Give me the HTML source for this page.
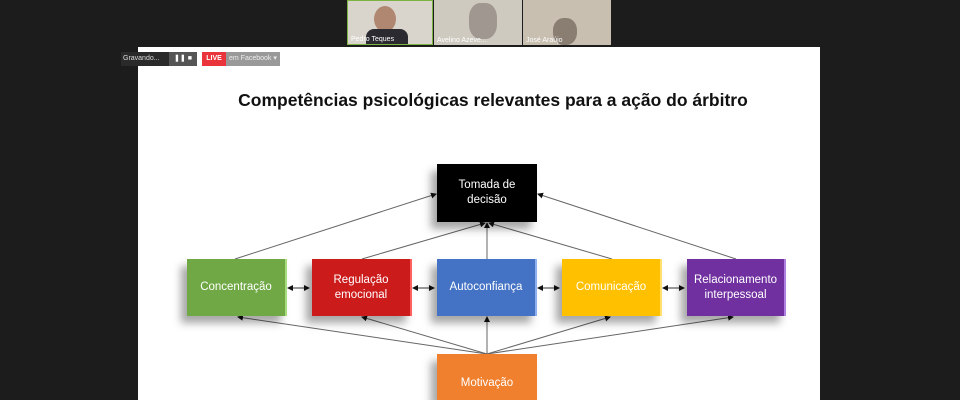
<!DOCTYPE html>
<html style="width:960px;height:400px;overflow:hidden"><head><meta charset="utf-8"><style>
body{margin:0;width:960px;height:400px;background:#1c1c1c;overflow:hidden;position:relative;font-family:"Liberation Sans",sans-serif}
.slide{position:absolute;left:138px;top:47px;width:682px;height:353px;background:#fff}
.tile{position:absolute;top:0;height:45px;background:#6a6a66;overflow:hidden}
.tile span{position:absolute;left:3px;bottom:1px;font-size:7px;color:#fff}
.box{position:absolute;color:#fff;font-size:11.5px;text-align:center;display:flex;align-items:center;justify-content:center;line-height:15px;box-shadow:-6px 7px 8px rgba(0,0,0,0.35)}
</style></head><body>
<div class="tile" style="left:347px;width:86px;background:#d9d4cc;border:1px solid #7cb342;box-sizing:border-box"><div style="position:absolute;left:26px;top:5px;width:22px;height:26px;border-radius:50%;background:#b08770"></div><div style="position:absolute;left:18px;top:28px;width:42px;height:20px;background:#2a2a30;border-radius:8px 8px 0 0"></div><span>Pedro Teques</span></div>
<div class="tile" style="left:434px;width:88px;background:#cfcac0"><div style="position:absolute;left:35px;top:3px;width:28px;height:36px;border-radius:40%;background:#a09890"></div><span>Avelino Azeve...</span></div>
<div class="tile" style="left:523px;width:88px;background:#c8bfb0"><div style="position:absolute;left:30px;top:18px;width:24px;height:27px;border-radius:45%;background:#8a7d72"></div><span>José Araújo</span></div>
<div class="slide"></div>
<div style="position:absolute;left:121px;top:52px;width:47px;height:14px;background:#2a2a2a;color:#ddd;font-size:7px;line-height:14px;padding-left:2px">Gravando...</div>
<div style="position:absolute;left:169px;top:52px;width:28px;height:14px;background:#555;color:#fff;font-size:7px;line-height:14px;text-align:center">❚❚ ■</div>
<div style="position:absolute;left:202px;top:52px;width:24px;height:14px;background:#e8343a;color:#fff;font-size:7px;font-weight:bold;line-height:14px;text-align:center">LIVE</div>
<div style="position:absolute;left:226px;top:52px;width:54px;height:14px;background:#999;color:#eee;font-size:7px;line-height:14px;padding-left:3px;box-sizing:border-box">em Facebook ▾</div>
<div style="position:absolute;left:138px;width:710px;top:90px;text-align:center;font-size:17.5px;font-weight:bold;color:#111">Competências psicológicas relevantes para a ação do árbitro</div>
<svg style="position:absolute;left:0;top:0" width="960" height="400">
<defs><marker id="a" markerWidth="6" markerHeight="6" refX="5" refY="3" orient="auto-start-reverse" markerUnits="userSpaceOnUse"><path d="M0,0L6,3L0,6z" fill="#111"/></marker></defs>
<g stroke="#666" stroke-width="1" fill="none" marker-end="url(#a)">
<line x1="235" y1="259" x2="436" y2="194"/>
<line x1="362" y1="259" x2="485" y2="223"/>
<line x1="487" y1="259" x2="487" y2="223"/>
<line x1="612" y1="259" x2="489" y2="223"/>
<line x1="736" y1="259" x2="538" y2="194"/>
<line x1="487" y1="354" x2="238" y2="317"/>
<line x1="487" y1="354" x2="362" y2="317"/>
<line x1="487" y1="354" x2="487" y2="317"/>
<line x1="487" y1="354" x2="610" y2="317"/>
<line x1="487" y1="354" x2="733" y2="317"/>
</g>
<g stroke="#333" stroke-width="1" marker-end="url(#a)" marker-start="url(#a)">
<line x1="288" y1="288" x2="309" y2="288"/>
<line x1="413" y1="288" x2="434" y2="288"/>
<line x1="538" y1="288" x2="559" y2="288"/>
<line x1="663" y1="288" x2="684" y2="288"/>
</g>
</svg>
<div class="box" style="left:437px;top:164px;width:100px;height:58px;background:#000">Tomada de<br>decisão</div>
<div class="box" style="left:187px;top:259px;width:98px;height:57px;background:#6fa845;border-right:2px solid #a8dc7c">Concentração</div>
<div class="box" style="left:312px;top:259px;width:98px;height:57px;background:#cc1b1b;border-right:2px solid #ff6060">Regulação<br>emocional</div>
<div class="box" style="left:437px;top:259px;width:98px;height:57px;background:#4472c4;border-right:2px solid #8fb0ee">Autoconfiança</div>
<div class="box" style="left:562px;top:259px;width:98px;height:57px;background:#ffc000;border-right:2px solid #ffe070">Comunicação</div>
<div class="box" style="left:687px;top:259px;width:97px;height:57px;background:#7030a0;border-right:2px solid #b080e0">Relacionamento<br>interpessoal</div>
<div class="box" style="left:437px;top:354px;width:100px;height:46px;background:#f0802e;align-items:flex-start;padding-top:22px;box-sizing:border-box">Motivação</div>
</body></html>
